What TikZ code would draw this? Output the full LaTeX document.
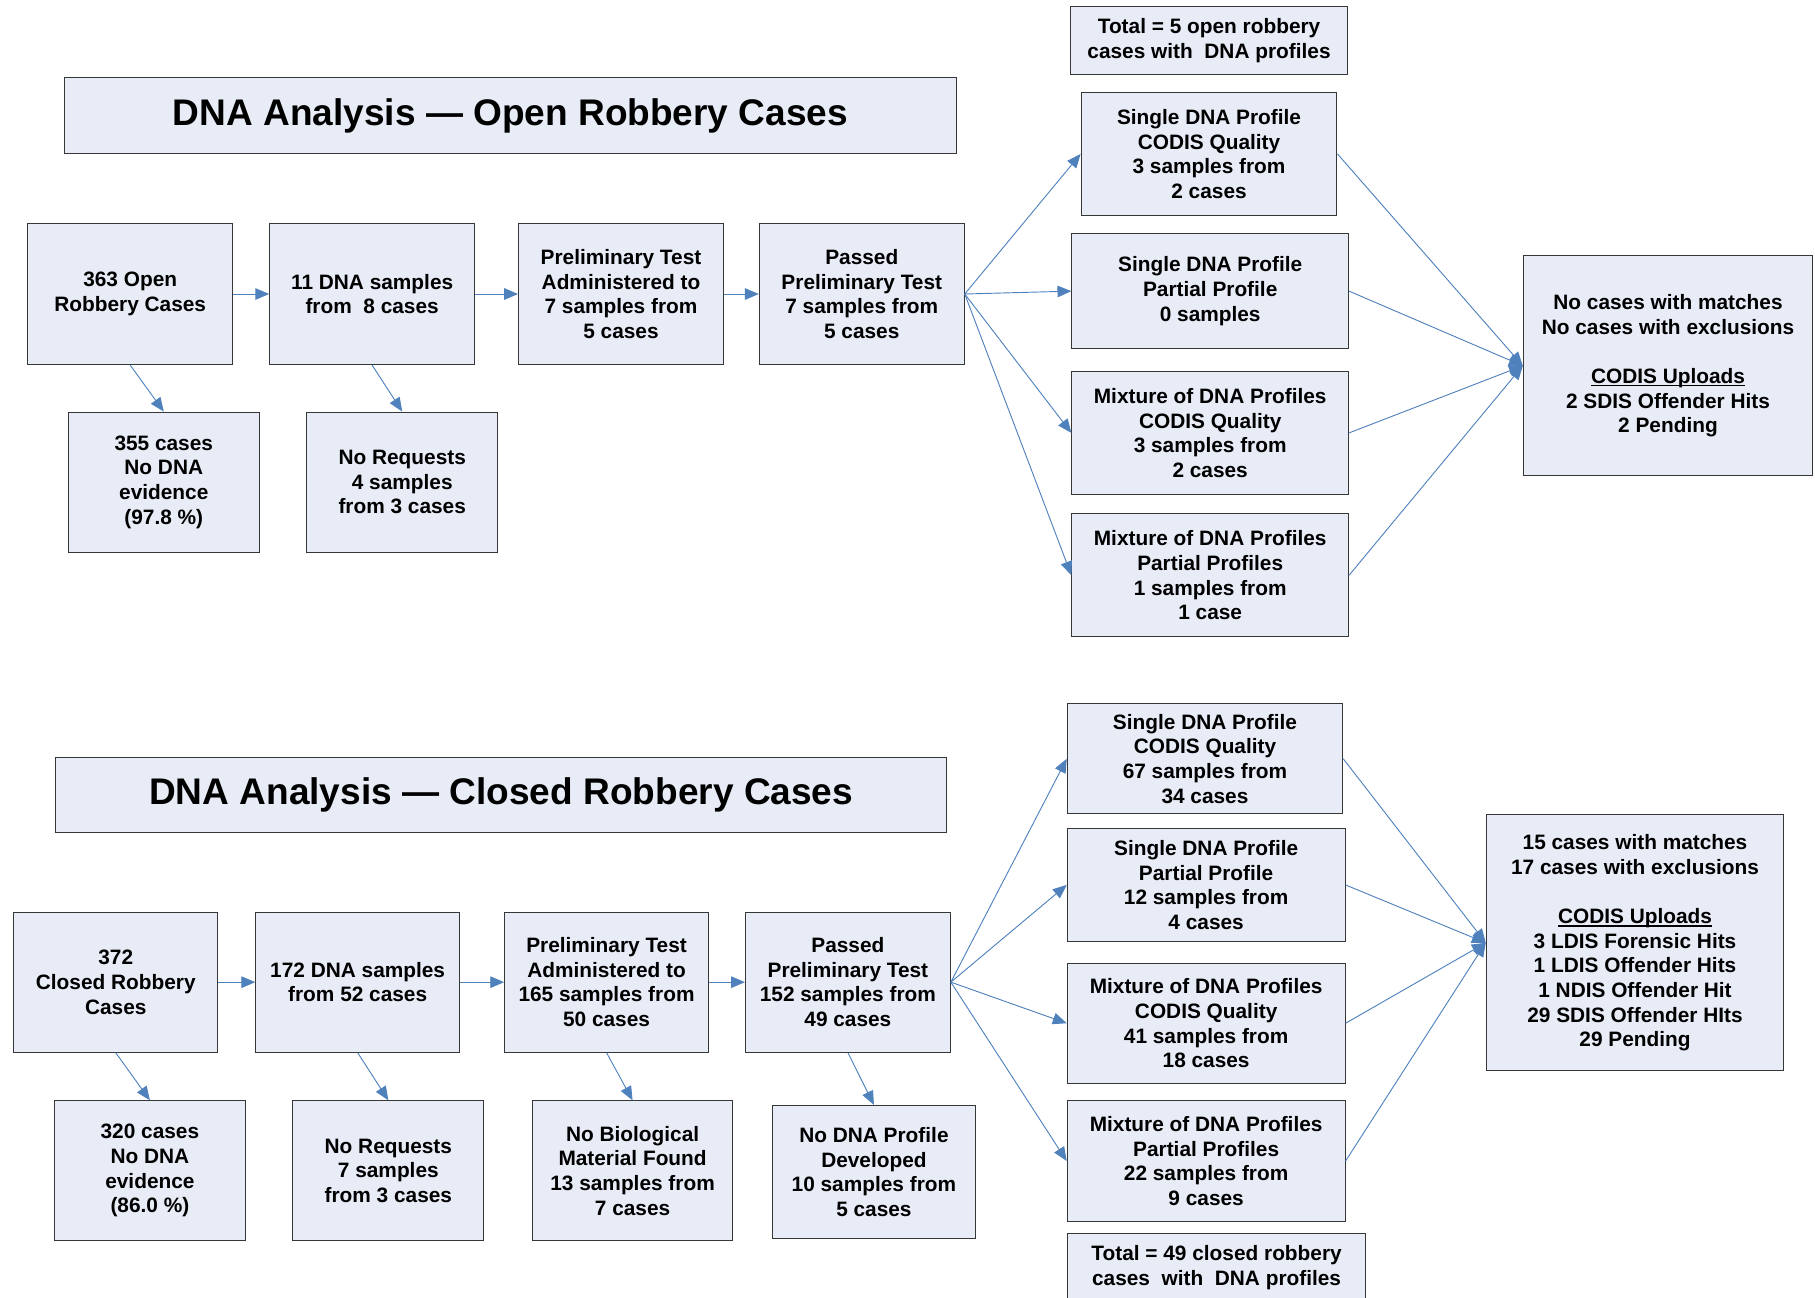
\documentclass[tikz,border=0pt]{standalone}
\usepackage{fontspec}
\setmainfont{Liberation Sans}
\usetikzlibrary{arrows.meta}
\definecolor{boxfill}{RGB}{231,236,247}
\definecolor{arrowblue}{RGB}{79,129,189}
\definecolor{boxline}{RGB}{55,55,55}
% underline kept inside the line's own depth
\newcommand{\uln}[1]{{\setbox0=\hbox{#1}\rlap{\rule[-2.6pt]{\wd0}{1.1pt}}\box0}}

\begin{document}
\begin{tikzpicture}[x=1pt,y=-1pt,
  box/.style={draw=boxline, line width=0.9pt, fill=boxfill, align=center, inner sep=0pt,
              font=\fontsize{18}{21.3}\selectfont\bfseries},
  titlebox/.style={box, font=\fontsize{32}{38}\selectfont\bfseries},
  sz/.style 2 args={minimum width=#1pt, minimum height=#2pt},
  flow/.style={draw=arrowblue, line width=0.8pt, -{Triangle[length=12pt,width=10pt]}}]
\clip (0,0) rectangle (1568,1121);

% ---------------- open robbery cases ----------------
\node[titlebox, sz={770}{66}] (T1) at (441,100) {DNA Analysis --- Open Robbery Cases};
\node[box, sz={239}{58}] (TotA) at (1044.5,35) {Total = 5 open robbery\\cases with\ \ DNA profiles};

\node[box, sz={177}{122}] (A1) at (112.5,254) {363 Open\\Robbery Cases};
\node[box, sz={177}{122}] (A2) at (321.5,254) {11 DNA samples\\from\ \ 8 cases};
\node[box, sz={177}{122}] (A3) at (536.5,254) {Preliminary Test\\Administered to\\7 samples from\\5 cases};
\node[box, sz={177}{122}] (A4) at (744.5,254) {Passed\\Preliminary Test\\7 samples from\\5 cases};

\node[box, sz={165}{121}] (B1) at (141.5,416.5) {355 cases\\No DNA\\evidence\\(97.8 \%)};
\node[box, sz={165}{121}] (B2) at (347.5,416.5) {No Requests\\4 samples\\from 3 cases};

\node[box, sz={221}{106}] (P1) at (1044.5,133) {Single DNA Profile\\CODIS Quality\\3 samples from\\2 cases};
\node[box, sz={239}{99}] (P2) at (1045.5,251.5) {Single DNA Profile\\Partial Profile\\0 samples};
\node[box, sz={239}{106}] (P3) at (1045.5,374) {Mixture of DNA Profiles\\CODIS Quality\\3 samples from\\2 cases};
\node[box, sz={239}{106}] (P4) at (1045.5,497) {Mixture of DNA Profiles\\Partial Profiles\\1 samples from\\1 case};

\node[box, sz={250}{190}] (R) at (1441,316) {No cases with matches\\No cases with exclusions\\[21.3pt]\uln{CODIS Uploads}\\2 SDIS Offender Hits\\2 Pending};

\draw[flow] (A1) -- (A2);
\draw[flow] (A2) -- (A3);
\draw[flow] (A3) -- (A4);
\draw[flow] (A1.south) -- (B1.north);
\draw[flow] (A2.south) -- (B2.north);
\foreach \p in {P1,P2,P3,P4} {
  \draw[flow] (A4.east) -- (\p.west);
  \draw[flow] (\p.east) -- (R.west);
}

% ---------------- closed robbery cases ----------------
\node[titlebox, sz={770}{65}] (T2) at (433,686.5) {DNA Analysis --- Closed Robbery Cases};

\node[box, sz={176}{121}] (C1) at (100,848.5) {372\\Closed Robbery\\Cases};
\node[box, sz={176}{121}] (C2) at (309,848.5) {172 DNA samples\\from 52 cases};
\node[box, sz={176}{121}] (C3) at (524,848.5) {Preliminary Test\\Administered to\\165 samples from\\50 cases};
\node[box, sz={177}{121}] (C4) at (732.5,848.5) {Passed\\Preliminary Test\\152 samples from\\49 cases};

\node[box, sz={165}{121}] (D1) at (129.5,1011.5) {320 cases\\No DNA\\evidence\\(86.0 \%)};
\node[box, sz={165}{121}] (D2) at (335.5,1011.5) {No Requests\\7 samples\\from 3 cases};
\node[box, sz={173}{121}] (D3) at (546.5,1011.5) {No Biological\\Material Found\\13 samples from\\7 cases};
\node[box, sz={176}{115}] (D4) at (755,1012.5) {No DNA Profile\\Developed\\10 samples from\\5 cases};

\node[box, sz={238}{95}] (Q1) at (1041,655.5) {Single DNA Profile\\CODIS Quality\\67 samples from\\34 cases};
\node[box, sz={240}{97}] (Q2) at (1042,764.5) {Single DNA Profile\\Partial Profile\\12 samples from\\4 cases};
\node[box, sz={240}{104}] (Q3) at (1042,884) {Mixture of DNA Profiles\\CODIS Quality\\41 samples from\\18 cases};
\node[box, sz={240}{104}] (Q4) at (1042,1003) {Mixture of DNA Profiles\\Partial Profiles\\22 samples from\\9 cases};
\node[box, sz={258}{58}] (TotB) at (1051,1095) {Total = 49 closed robbery\\cases\ \ with\ \ DNA profiles};

\node[box, sz={257}{221}] (S) at (1412.5,814.5) {15 cases with matches\\17 cases with exclusions\\[21.3pt]\uln{CODIS Uploads}\\3 LDIS Forensic Hits\\1 LDIS Offender Hits\\1 NDIS Offender Hit\\29 SDIS Offender HIts\\29 Pending};

\draw[flow] (C1) -- (C2);
\draw[flow] (C2) -- (C3);
\draw[flow] (C3) -- (C4);
\draw[flow] (C1.south) -- (D1.north);
\draw[flow] (C2.south) -- (D2.north);
\draw[flow] (C3.south) -- (D3.north);
\draw[flow] (C4.south) -- (D4.north);
\foreach \q in {Q1,Q2,Q3,Q4} {
  \draw[flow] (C4.east) -- (\q.west);
  \draw[flow] (\q.east) -- (S.west);
}
\end{tikzpicture}
\end{document}
